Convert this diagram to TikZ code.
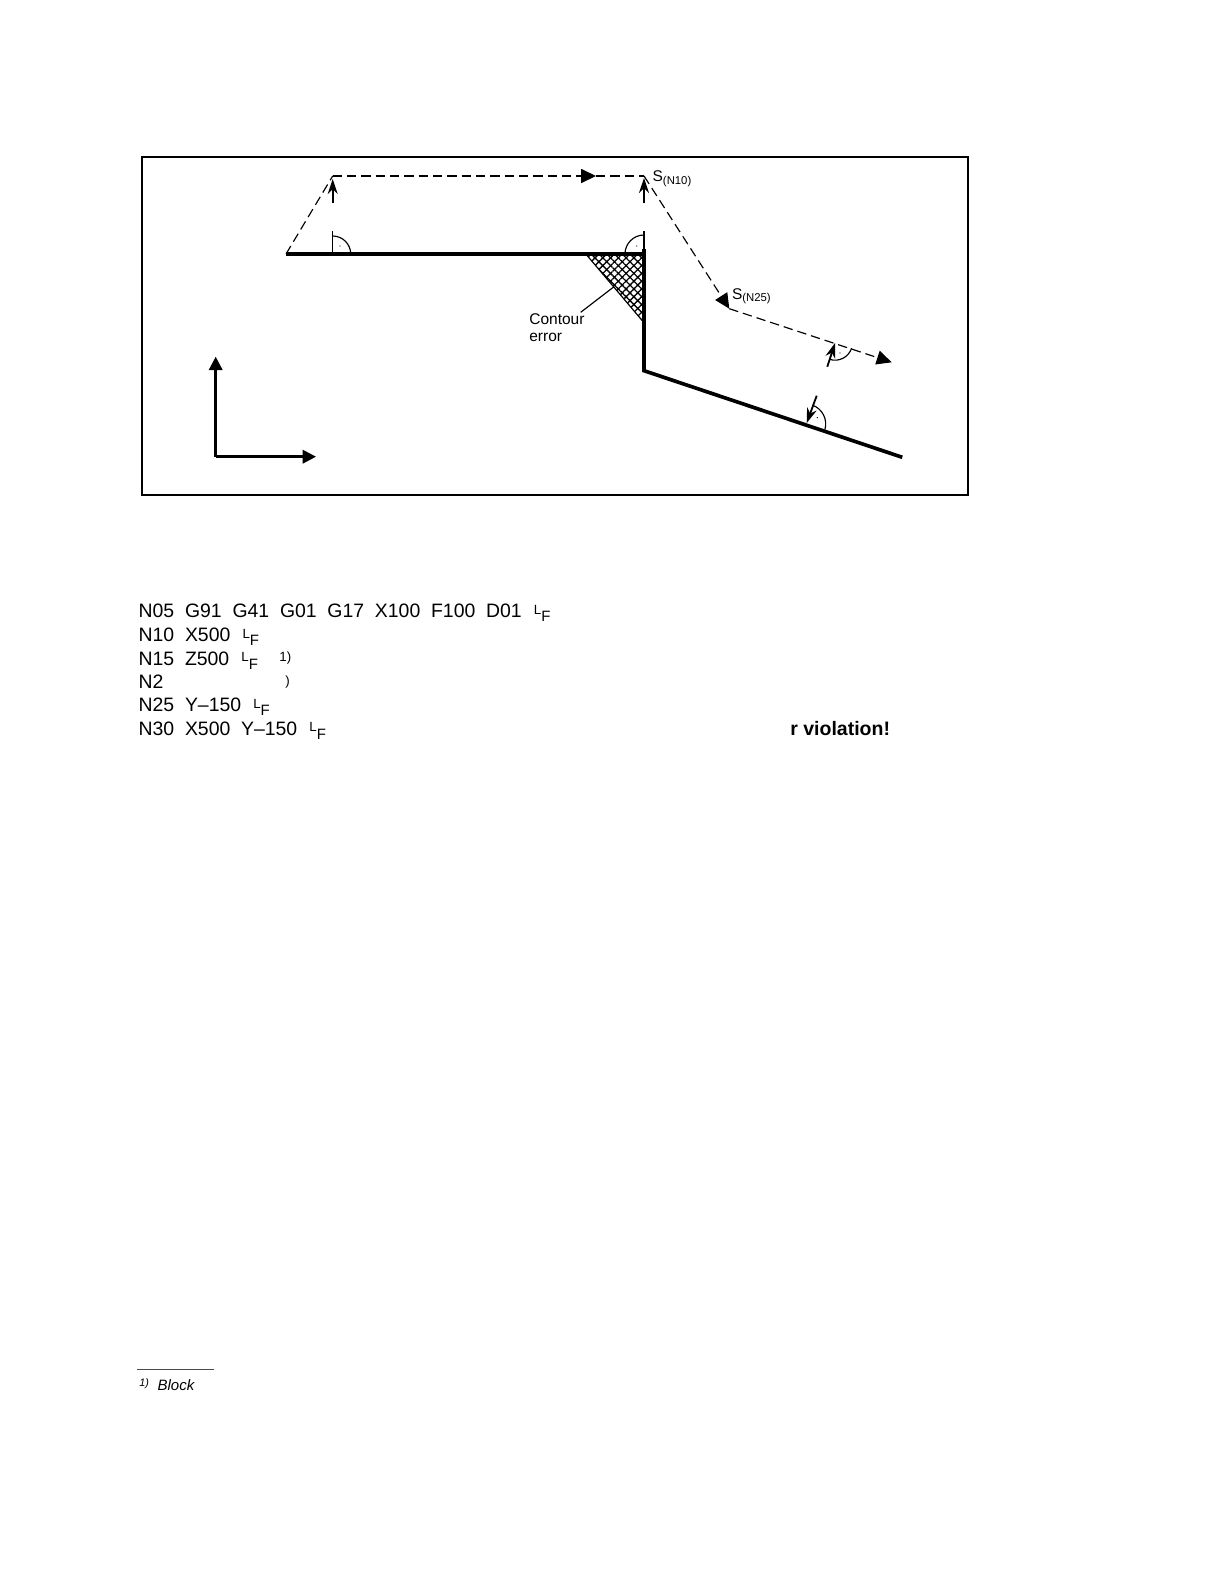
\documentclass[tikz,border=0pt]{standalone}
\usepackage{fontspec}
\setmainfont{Liberation Sans}
\usetikzlibrary{arrows.meta, patterns.meta, positioning}
\newcommand{\lfmark}{\hspace{0.8pt}\raisebox{2.2pt}{\fontsize{8}{8}\selectfont L}\raisebox{-2.4pt}{\fontsize{9}{9}\selectfont F}}
\newcommand{\subN}[1]{\raisebox{-1.6pt}{\fontsize{6.8}{6.8}\selectfont (N#1)}}
\tikzset{
  contour/.style={line width=2.2pt, line join=miter},
  toolpath/.style={line width=0.7pt, dash pattern=on 5.6pt off 3pt},
  thinline/.style={line width=0.7pt},
  tiplarge/.style={-{Triangle[length=8pt,width=8pt]}},
  tippath/.style={-{Triangle[length=9pt,width=8.5pt]}},
  tipsmall/.style={-{Stealth[length=9pt,width=6pt]}},
  codeline/.style={anchor=base west, inner sep=0pt, font=\fontsize{11.65}{11.65}\selectfont},
  drawlabel/.style={anchor=base west, inner sep=0pt, font=\fontsize{9.3}{9.3}\selectfont},
}
\begin{document}
\begin{tikzpicture}[x=0.6pt, y=-0.6pt]
   \useasboundingbox (0,0) rectangle (1224,1584);
   \draw[line width=1.2pt] (142,156.7) rectangle (968,495.3);
   % contour points
   \coordinate (c1) at (286,254);
   \coordinate (c2) at (644,254);
   \coordinate (c3) at (644,370.7);
   \coordinate (c4) at (902.3,457.3);
   % tool path points
   \coordinate (s0) at (332.7,176);
   \coordinate (s10) at (644,176);
   \coordinate (s25) at (729.3,308.7);
   \coordinate (s30) at (891.7,362.3);
   \coordinate (smid) at (596,176);
   % error area
   \coordinate (e1) at (586.7,255);
   \coordinate (e2) at (644,255);
   \coordinate (e3) at (644,322.7);
   \fill[pattern={Lines[angle=45,distance=3.3pt,line width=0.8pt]}] (e1) -- (e2) -- (e3) -- cycle;
   \fill[pattern={Lines[angle=-45,distance=3.3pt,line width=0.8pt]}] (e1) -- (e2) -- (e3) -- cycle;
   \draw[thinline] (e1) -- (e3);
   \draw[contour] (c1) -- (c2);
   \draw[contour] (644,249) -- (c3) -- (c4);
   \draw[toolpath] (c1) -- (s0);
   \draw[toolpath, tippath] (s0) -- (smid);
   \draw[toolpath] (smid) -- (s10);
   \draw[toolpath, tippath] (s10) -- (s25);
   \draw[toolpath, tippath] (s25) -- (s30);
   % normals
   \draw[thinline] (332.7,231) -- (332.7,254);
   \draw[line width=1.1pt] (644,231) -- (644,249);
   \draw[line width=1.1pt, tipsmall] (332.7,203.3) -- (332.7,179);
   \draw[line width=1.1pt, tipsmall] (644,203.3) -- (644,178);
   \draw[line width=1.1pt, tipsmall] (827.3,366.7) -- (835,343);
   \draw[line width=1.1pt, tipsmall] (816.7,395.7) -- (806.7,423);
   % right angle marks
   \coordinate (m1) at (332.7,254);
   \coordinate (m2) at (644,254);
   \coordinate (m3) at (835,342.7);
   \coordinate (m4) at (805.7,424);
   \foreach \mk/\sa/\ea/\rd in {m1/0/90/10.8, m2/90/180/11.4, m3/-18/-108/10.5, m4/71/-16/12} {
      \draw[thinline] ([shift={(\sa:\rd pt)}]\mk) arc[start angle=\sa, end angle=\ea, radius=\rd pt];
   }
   \foreach \dx/\dy in {340/246, 636.7/246, 840/353, 817.3/417.7} {
      \fill (\dx,\dy) circle (0.4pt);
   }
   % axes
   \coordinate (ax0) at (215.7,456.7);
   \coordinate (axv) at (215.7,356.7);
   \coordinate (axh) at (316,456.7);
   \draw[line width=1.5pt, tiplarge] (ax0) -- (axv);
   \draw[line width=1.5pt, tiplarge] (ax0) -- (axh);
   % labels
   \node[drawlabel] (s10label) at (652.3,181.7) {S\subN{10}};
   \node[drawlabel] (s25label) at (731.7,299) {S\subN{25}};
   \node[drawlabel] (errlabela) at (529,324) {Contour};
   \node[drawlabel] (errlabelb) at (529,341) {error};
   \coordinate (errpoint) at (614,286.7);
   \draw[thinline] (580.7,312.3) -- (errpoint);
   % program
   \node[codeline] (n05) at (138.3,617.7) {N05\ \ G91\ \ G41\ \ G01\ \ G17\ \ X100\ \ F100\ \ D01\ \ \lfmark};
   \node[codeline] (n10) at (138.3,641.7) {N10\ \ X500\ \ \lfmark};
   \node[codeline] (n15) at (138.3,665) {N15\ \ Z500\ \ \lfmark};
   \node[codeline] (n20) at (138.3,688.3) {N2};
   \node[codeline] (n25) at (138.3,711.7) {N25\ \ Y--150\ \ \lfmark};
   \node[codeline] (n30) at (138.3,735) {N30\ \ X500\ \ Y--150\ \ \lfmark};
   \node[anchor=base west, inner sep=0pt, font=\fontsize{8}{8}\selectfont] (fnmark) at (279,661) {1)};
   \node[anchor=base west, inner sep=0pt, font=\fontsize{8}{8}\selectfont] (fnparen) at (285,685) {)};
   \node[anchor=base west, inner sep=0pt, font=\fontsize{11.7}{11.7}\selectfont\bfseries] (violation) at (790,735) {r violation!};
   % footnote
   \coordinate (fnl) at (137.3,1369.7);
   \coordinate (fnr) at (214,1369.7);
   \draw[line width=0.7pt, black!70] (fnl) -- (fnr);
   \node[anchor=base west, inner sep=0pt, font=\fontsize{6.5}{6.5}\selectfont\itshape] (fnone) at (139,1386.7) {1)};
   \node[anchor=base west, inner sep=0pt, font=\fontsize{9}{9}\selectfont\itshape] (fntext) at (157.3,1390) {Block};
\end{tikzpicture}
\end{document}
